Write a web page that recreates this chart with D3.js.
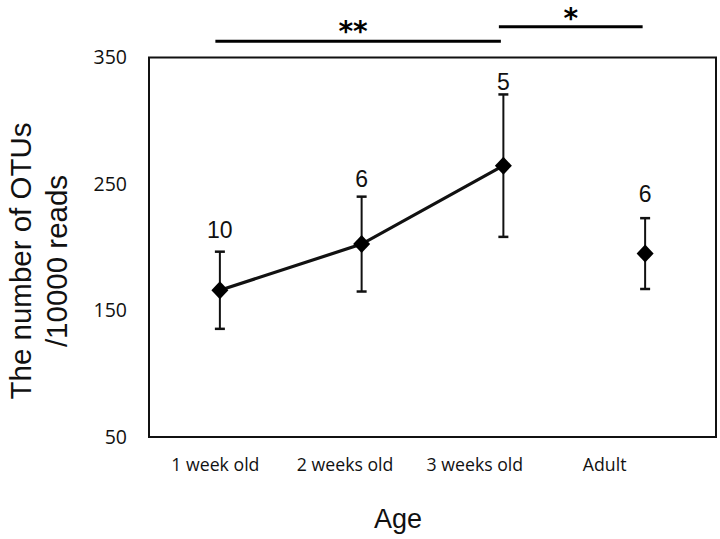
<!DOCTYPE html>
<html><head><meta charset="utf-8">
<script src="https://cdn.jsdelivr.net/npm/d3@7"></script>
<style>body{margin:0;background:#fff}svg{display:block}</style>
</head><body>
<svg id="c" width="720" height="539"></svg>
<script>
const categories = ["1 week old", "2 weeks old", "3 weeks old", "Adult"];
const means = [166, 202.5, 264.5, 195];
const errors = [30.5, 37.5, 56.3, 28];
const sampleSizes = ["10", "6", "5", "6"];
const connected = [true, true, true, false];
const yTicks = [50, 150, 250, 350];
const sigBrackets = [
  {from: "1 week old", to: "3 weeks old", label: "**", level: 0},
  {from: "3 weeks old", to: "Adult", label: "*", level: 1}
];

// layout / style settings
const labelGapPx = [13.5, 9.5, 4.7, 16];

const svg = d3.select("#c");
const m = {left: 149, right: 716, top: 57.5, bottom: 437};
const x = d3.scalePoint().domain(categories).range([m.left, m.right]).padding(0.5);
// category labels in the original sit on a slightly narrower spacing
const xLab = d3.scalePoint().domain(categories).range([150, 669]).padding(0.5);
const y = d3.scaleLinear().domain([50, 350]).range([m.bottom, m.top]);

// frame
svg.append("rect").attr("x", m.left).attr("y", m.top)
  .attr("width", m.right - m.left).attr("height", m.bottom - m.top)
  .attr("fill", "none").attr("stroke", "#111").attr("stroke-width", 2);

// y axis labels
const yAxis = d3.axisLeft(y).tickValues(yTicks).tickSize(0).tickPadding(22);
const gy = svg.append("g").attr("transform", `translate(${m.left},0)`).call(yAxis);
gy.select(".domain").remove();
gy.selectAll("text").attr("font-family", "Open Sans, sans-serif").attr("font-size", 19.5).attr("fill", "#111");

// x axis labels
const xAxis = d3.axisBottom(xLab).tickSize(0).tickPadding(21);
const gx = svg.append("g").attr("transform", `translate(0,${m.bottom})`).call(xAxis);
gx.select(".domain").remove();
gx.selectAll("text").attr("font-family", "Open Sans, sans-serif").attr("font-size", 17.7).attr("fill", "#111");

// axis titles
svg.append("text").attr("x", 398).attr("y", 528).attr("text-anchor", "middle")
  .attr("font-family", "Liberation Sans, Arial, sans-serif").attr("font-size", 27).attr("fill", "#111").text("Age");
const yt = svg.append("text").attr("transform", "translate(0,261) rotate(-90)")
  .attr("text-anchor", "middle").attr("font-family", "Liberation Sans, Arial, sans-serif")
  .attr("font-size", 29.5).attr("fill", "#111");
yt.append("tspan").attr("x", 0).attr("y", 31).text("The number of OTUs");
yt.append("tspan").attr("x", 0).attr("y", 67).text("/10000 reads");

const data = categories.map((c, i) => ({c, m: means[i], e: errors[i], n: sampleSizes[i], con: connected[i], gap: labelGapPx[i]}));

// line
const line = d3.line().x(d => x(d.c)).y(d => y(d.m));
svg.append("path").datum(data.filter(d => d.con)).attr("d", line)
  .attr("fill", "none").attr("stroke", "#111").attr("stroke-width", 3.2);

// error bars
const eb = svg.append("g").attr("stroke", "#111").attr("stroke-width", 2);
data.forEach(d => {
  const cx = x(d.c);
  eb.append("line").attr("x1", cx).attr("x2", cx).attr("y1", y(d.m + d.e)).attr("y2", y(d.m - d.e));
  [d.m + d.e, d.m - d.e].forEach(v => {
    eb.append("line").attr("x1", cx - 5).attr("x2", cx + 5).attr("y1", y(v)).attr("y2", y(v)).attr("stroke-width", 2.5);
  });
});

// markers
svg.selectAll(".pt").data(data).join("path")
  .attr("transform", d => `translate(${x(d.c)},${y(d.m)})`)
  .attr("d", "M0,-9L8.5,0L0,9L-8.5,0Z").attr("fill", "#000");

// n labels
svg.selectAll(".n").data(data).join("text")
  .attr("x", d => x(d.c)).attr("y", d => y(d.m + d.e) - d.gap)
  .attr("text-anchor", "middle").attr("font-family", "Liberation Sans, Arial, sans-serif")
  .attr("font-size", 23).attr("fill", "#111").text(d => d.n);

// significance brackets
const levels = [{y: 41.3, ty: 40.5, dx: -5}, {y: 26.7, ty: 28, dx: 0}];
sigBrackets.forEach(b => {
  const x1 = x(b.from) - 4.5, x2 = x(b.to) - 2.5;
  const L = levels[b.level];
  svg.append("line").attr("x1", x1).attr("x2", x2).attr("y1", L.y).attr("y2", L.y)
    .attr("stroke", "#000").attr("stroke-width", 3);
  svg.append("text").attr("x", (x1 + x2) / 2 + L.dx).attr("y", L.ty)
    .attr("text-anchor", "middle").attr("font-family", "DejaVu Sans, sans-serif")
    .attr("font-size", 28).attr("font-weight", "bold").attr("fill", "#000").text(b.label);
});
</script>
</body></html>
